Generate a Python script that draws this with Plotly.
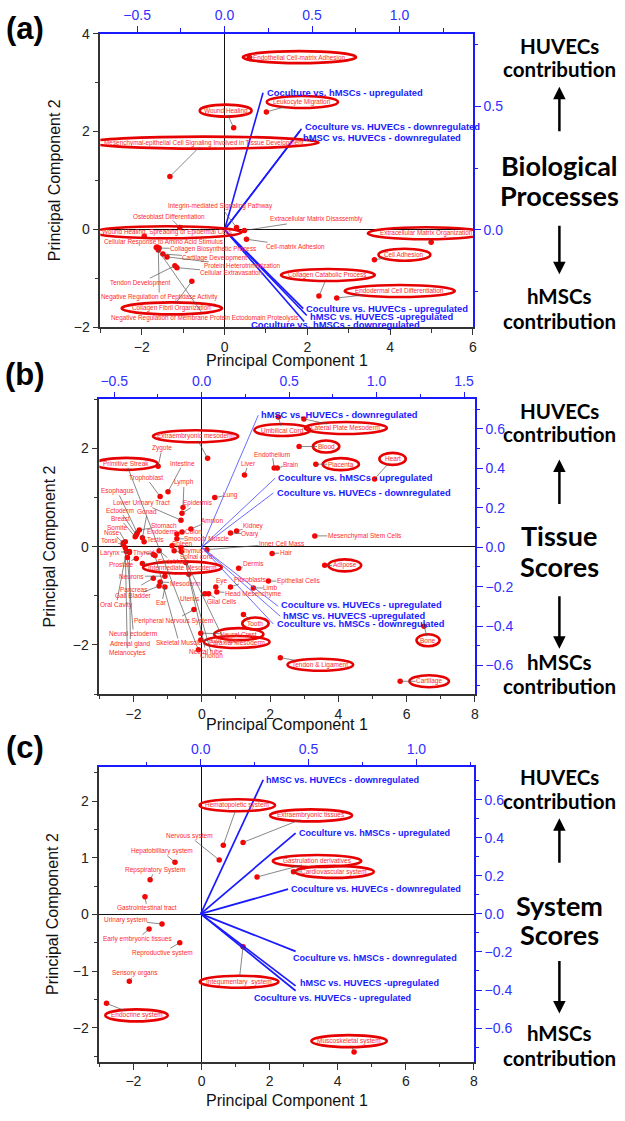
import plotly.graph_objects as go

W, H = 625, 1121

# ======================= DATA =======================
# ---- (a) Biological Processes ----
a_names = ["Endothelial Cell-matrix Adhesion", "Leukocyte Migration", "Wound Healing",
           "Mesenchymal-epithelial Cell Signaling Involved in Tissue Development",
           "Integrin-mediated Signaling Pathway", "Osteoblast Differentiation",
           "Extracellular Matrix Disassembly", "Cell-matrix Adhesion",
           "Wound Healing, Spreading of Epidermal Cells", "Cellular Response to Amino Acid Stimulus",
           "Collagen Biosynthetic Process", "Cartilage Development", "Protein Heterotrimerization",
           "Cellular Extravasation", "Tendon Development", "Negative Regulation of Peptidase Activity",
           "Collagen Fibril Organization",
           "Negative Regulation of Membrane Protein Ectodomain Proteolysis",
           "Extracellular Matrix Organization", "Cell Adhesion", "Collagen Catabolic Process",
           "Endodermal Cell Differentiation"]
a_pc1 = [0.6, 1.01, 0.22, -1.32, 0.29, -1.08, 0.48, 0.53, -1.94, -1.63, -1.58, -1.49, -1.39,
         -1.15, -1.2, -1.6, -0.79, -1.65, 4.99, 3.62, 2.28, 2.71]
a_pc2 = [3.52, 2.4, 2.08, 1.08, 0.04, 0.04, -0.02, -0.2, -0.14, -0.36, -0.38, -0.5, -0.56,
         -0.78, -0.74, -0.42, -1.06, -0.37, -0.26, -0.62, -1.36, -1.4]
a_circled = ["Endothelial Cell-matrix Adhesion", "Leukocyte Migration", "Wound Healing",
             "Mesenchymal-epithelial Cell Signaling Involved in Tissue Development",
             "Wound Healing, Spreading of Epidermal Cells", "Collagen Fibril Organization",
             "Extracellular Matrix Organization", "Cell Adhesion", "Collagen Catabolic Process",
             "Endodermal Cell Differentiation"]
a_load_names = ["Coculture vs. hMSCs - upregulated", "Coculture vs. HUVECs - downregulated",
                "hMSC vs. HUVECs - downregulated", "Coculture vs. HUVECs - upregulated",
                "hMSC vs. HUVECS -upregulated", "Coculture vs. hMSCs - downregulated"]
a_load_pc1 = [0.22, 0.44, 0.43, 0.45, 0.47, 0.455]
a_load_pc2 = [0.556, 0.41, 0.40, -0.32, -0.348, -0.372]

# ---- (b) Tissue Scores ----
b_names = ["Extraembryonic mesoderm", "Zygote", "Primitive Streak", "Intestine", "Trophoblast",
           "Lymph", "Esophagus", "Lung", "Lower Urinary Tract", "Epidermis", "Ectoderm", "Gonad",
           "Amnion", "Breast", "Stomach", "Somite", "Endoderm", "Colon", "Nose", "Testis",
           "Smooth Muscle", "Tonsil", "Spleen", "Thymus", "Spinal cord", "Larynx", "Thyroid",
           "Endoblast", "Prostate", "Intermediate Mesoderm", "Dermis", "Neurons", "Mesoderm",
           "Pancreas", "Gall Bladder", "Oral Cavity", "Ear", "Uterus", "Glial Cells", "Eye",
           "Head Mesenchyme", "Fibroblasts", "Limb", "Epithelial Cells", "Hair", "Adipose",
           "Mesenchymal Stem Cells", "Inner Cell Mass", "Kidney", "Ovary", "Liver", "Endothelium",
           "Brain", "Placenta", "Blood", "Heart", "Umbilical Cord", "Lateral Plate Mesoderm",
           "Peripheral Nervous System", "Tooth", "Neural Crest", "Paraxial Mesoderm",
           "Tendon & Ligament", "Cartilage", "Bone", "Neural ectoderm", "Adrenal gland",
           "Melanocytes", "Skeletal Muscle", "Neural tube", "Chorion", "Gut Tube"]
b_pc1 = [0.17, -1.28, -0.1, -0.99, -1.22, -0.55, -1.89, 0.38, -0.61, -0.58, -1.92, -1.74,
         -0.32, -1.95, -1.83, -2.24, -0.73, -0.58, -2.3, -1.69, -0.73, -2.3, -0.87, -0.61,
         -0.81, -2.12, -1.42, -1.25, -1.92, -1.74, 1.08, -1.08, -1.22, -1.42, -1.25, -2.21,
         -1.08, 0.09, 0.2, 0.41, 0.44, 0.84, 1.51, 1.95, 2.06, 3.6, 3.31, 0.15, 1.02, 0.84,
         1.25, 2.12, 2.21, 3.34, 2.85, 5.06, 2.24, 2.99, -0.23, 1.22, -0.03, -0.03, 2.3, 5.81,
         6.51, -2.18, -2.12, -2.24, -1.37, -0.47, -0.38, -0.6]
b_pc2 = [1.8, 1.64, -2.1, 1.12, 1.02, 0.8, 0.28, 1.0, 0.54, 0.68, 0.24, 0.18, 0.36, 0.2, 0.34,
         0.1, 0.26, 0.3, 0.08, 0.1, 0.16, 0.04, 0.02, -0.02, -0.08, -0.1, -0.16, -0.08, -0.24,
         -0.34, -0.44, -0.6, -0.72, -0.64, -0.8, -0.1, -0.82, -0.96, -0.96, -0.82, -0.92, -0.82,
         -0.84, -0.7, -0.14, -0.38, 0.22, -0.06, 0.32, 0.28, 1.46, 1.6, 1.6, 1.68, 2.04, 1.38,
         2.64, 2.6, -1.28, -1.38, -1.76, -1.9, -2.26, -2.74, -1.62, -0.22, -0.12, -0.02, -0.18,
         -0.32, -0.56, -0.1]
b_circled = ["Extraembryonic mesoderm", "Primitive Streak", "Intermediate Mesoderm", "Adipose",
             "Placenta", "Blood", "Heart", "Umbilical Cord", "Lateral Plate Mesoderm", "Tooth",
             "Neural Crest", "Paraxial Mesoderm", "Tendon & Ligament", "Cartilage", "Bone"]
b_load_names = ["hMSC vs. HUVECs - downregulated", "Coculture vs. hMSCs - upregulated",
                "Coculture vs. HUVECs - downregulated", "Coculture vs. HUVECs - upregulated",
                "hMSC vs. HUVECS -upregulated", "Coculture vs. hMSCs - downregulated"]
b_load_pc1 = [0.324, 0.42, 0.41, 0.4375, 0.449, 0.41]
b_load_pc2 = [0.67, 0.35, 0.275, -0.30, -0.35, -0.39]

# ---- (c) System Scores ----
c_names = ["Hematopoietic system", "Nervous system", "Extraembryonic tissues",
           "Gastrulation derivatives", "Cardiovascular system", "Hepatobilliary system",
           "Repspiratory System", "Gastrointestinal tract", "Urinary system",
           "Early embryonic tissues", "Reproductive system", "Sensory organs", "Endocrine system",
           "Integumentary  system", "Muscoskeletal system"]
c_pc1 = [0.64, 0.52, 1.22, 1.63, 2.7, -0.78, -1.51, -1.66, -1.16, -1.54, -0.64, -2.12, -2.79,
         1.22, 4.48]
c_pc2 = [1.22, 0.96, 1.27, 0.66, 0.75, 0.92, 0.61, 0.31, -0.17, -0.26, -0.5, -1.18, -1.57,
         -0.57, -2.43]
c_circled = ["Hematopoietic system", "Extraembryonic tissues", "Gastrulation derivatives",
             "Cardiovascular system", "Endocrine system", "Integumentary  system",
             "Muscoskeletal system"]
c_load_names = ["hMSC vs. HUVECs - downregulated", "Coculture vs. hMSCs - upregulated",
                "Coculture vs. HUVECs - downregulated", "Coculture vs. hMSCs - downregulated",
                "hMSC vs. HUVECS -upregulated", "Coculture vs. HUVECs - upregulated"]
c_load_pc1 = [0.29, 0.44, 0.405, 0.44, 0.44, 0.44]
c_load_pc2 = [0.705, 0.425, 0.13, -0.197, -0.378, -0.404]

# ======================= LABEL PLACEMENT (pixel offsets from point) =======================
a_label_off = [(50, 0), (36, -10), (-8, -17), (34, -34), (-16, -21), (-11, -11), (72, -11),
               (49, 7), (23, -4), (6, -5), (54, 1), (52, 4), (75, 9), (55, 5), (-34, 17),
               (1, 47), (-20, 27), (49, 70), (-5, -9), (30, -5), (9, -21), (63, -7)]
a_load_off = [(2, 0), (1, -2), (1, 6), (1, 0), (1, 1), (-55, 3)]

b_label_off = [(-12, -22), (4, -18), (-72, -186), (15, -28), (-14, -19), (1, -25), (-20, -42),
               (16, -3), (-39, -17), (16, -10), (-16, -24), (5, -26), (21, -9), (-15, -18),
               (25, -4), (-8, -14), (-15, -2), (12, 0), (-11, -10), (11, -2), (30, 0), (-14, -4),
               (10, -2), (11, 3), (22, 6), (-19, 1), (-9, -2), (13, 11), (-15, 6), (40, 4),
               (15, -5), (-33, 0), (25, 1), (-19, 11), (-26, 10), (-10, 53), (-3, 16), (-15, 5),
               (13, 8), (6, -6), (36, 2), (20, -7), (17, 0), (30, 0), (14, -1), (20, 0), (50, 0),
               (75, -6), (17, -5), (20, 1), (4, -11), (-2, -14), (14, -4), (25, 0), (27, 0),
               (18, -20), (4, 13), (42, 9), (-20, 11), (12, 9), (38, 1), (36, 2), (40, 7),
               (29, 0), (4, 14), (6, 76), (1, 91), (2, 105), (24, 87), (20, 89), (23, 81),
               (43, 89)]
b_load_off = [(1, 0), (1, 0), (2, 0), (1, -1), (1, 0), (2, 0)]

c_label_off = [(14, -40), (-30, -24), (68, -27), (60, -16), (41, 0), (-13, -11), (5, -10),
               (2, 11), (-37, -4), (-12, 10), (-17, 10), (6, -8), (30, 12), (-4, 35), (-5, -11)]
c_load_off = [(1, 0), (1, 0), (1, 0), (-5, 7), (2, -3), (-44, 7)]

# ======================= STYLE / GEOMETRY =======================
PANELS = [
    dict(names=a_names, pc1=a_pc1, pc2=a_pc2, circ=a_circled, off=a_label_off,
         ln=a_load_names, lx=a_load_pc1, ly=a_load_pc2, loff=a_load_off,
         px=(101, 476), py=(26, 324), xr=(-3, 6), yr=(-2, 4), x2r=(-0.710, 1.420),
         y2r=(-0.396, 0.796), xd=2, xm=1, yd=2, ym=1, x2d=0.5, x2m=0.25, y2d=0.5, y2m=0.25,
         fs=6.4, lfs=9.4, lw=1.6, lcol="#1a1aff", title_y=358, ytitle_x=55),
    dict(names=b_names, pc1=b_pc1, pc2=b_pc2, circ=b_circled, off=b_label_off,
         ln=b_load_names, lx=b_load_pc1, ly=b_load_pc2, loff=b_load_off,
         px=(100, 478), py=(397, 696), xr=(-3, 8), yr=(-3, 3), x2r=(-0.585, 1.5625),
         y2r=(-0.745, 0.75), xd=2, xm=1, yd=2, ym=1, x2d=0.5, x2m=0.25, y2d=0.2, y2m=0.1,
         fs=6.5, lfs=9.3, lw=0.9, lcol="#5a5aff", title_y=727, ytitle_x=50),
    dict(names=c_names, pc1=c_pc1, pc2=c_pc2, circ=c_circled, off=c_label_off,
         ln=c_load_names, lx=c_load_pc1, ly=c_load_pc2, loff=c_load_off,
         px=(100, 477), py=(770, 1069), xr=(-3, 8), yr=(-2.6, 2.6), x2r=(-0.470, 1.267),
         y2r=(-0.777, 0.772), xd=2, xm=1, yd=1, ym=0.5, x2d=0.5, x2m=0.25, y2d=0.2, y2m=0.1,
         fs=6.5, lfs=9.1, lw=1.7, lcol="#1a1aff", title_y=1108, ytitle_x=53),
]

RED_TXT = "#ff2a2a"
RED_DOT = "#ff0000"
BLUE = "#1a1aff"
BLUE_TICK = "#2f2fff"
FONT = "Liberation Sans"

fig = go.Figure()
annotations = []
shapes = []
layout = {}


def axname(n, kind):
    return kind if n == 1 else f"{kind}{n}"


for i, P in enumerate(PANELS):
    n1, n2 = 2 * i + 1, 2 * i + 2
    xa, x2a = axname(n1, "x"), axname(n2, "x")
    ya, y2a = axname(n1, "y"), axname(n2, "y")
    xdom = [P["px"][0] / W, P["px"][1] / W]
    ydom = [1 - P["py"][1] / H, 1 - P["py"][0] / H]
    tickfont = dict(family=FONT, size=14, color="#222")
    btickfont = dict(family=FONT, size=14, color=BLUE_TICK)
    layout[f"xaxis{'' if n1 == 1 else n1}"] = dict(
        domain=xdom, range=list(P["xr"]), anchor=ya, side="bottom", showgrid=False,
        zeroline=True, zerolinecolor="#111", zerolinewidth=1.3, showline=True,
        linecolor="#333", linewidth=1.6, ticks="outside", ticklen=6, tickwidth=1.4,
        tickcolor="#333", dtick=P["xd"], tick0=0, tickfont=tickfont,
        minor=dict(dtick=P["xm"], ticklen=3.5, tickwidth=1.2, tickcolor="#333", ticks="outside"),
        fixedrange=True)
    layout[f"yaxis{'' if n1 == 1 else n1}"] = dict(
        domain=ydom, range=list(P["yr"]), anchor=xa, side="left", showgrid=False,
        zeroline=True, zerolinecolor="#111", zerolinewidth=1.3, showline=True,
        linecolor="#333", linewidth=1.6, ticks="outside", ticklen=6, tickwidth=1.4,
        tickcolor="#333", dtick=P["yd"], tick0=0, tickfont=tickfont,
        minor=dict(dtick=P["ym"], ticklen=3.5, tickwidth=1.2, tickcolor="#333", ticks="outside"),
        fixedrange=True)
    layout[f"xaxis{n2}"] = dict(
        domain=xdom, range=list(P["x2r"]), overlaying=xa, anchor=y2a, side="top",
        showgrid=False, zeroline=False, showline=True, linecolor=BLUE, linewidth=1.6,
        ticks="outside", ticklen=6, tickwidth=1.4, tickcolor=BLUE, dtick=P["x2d"], tick0=0,
        tickformat=".1f", tickfont=btickfont,
        minor=dict(dtick=P["x2m"], ticklen=3.5, tickwidth=1.2, tickcolor=BLUE, ticks="outside"),
        fixedrange=True)
    layout[f"yaxis{n2}"] = dict(
        domain=ydom, range=list(P["y2r"]), overlaying=ya, anchor=x2a, side="right",
        showgrid=False, zeroline=False, showline=True, linecolor=BLUE, linewidth=1.6,
        ticks="outside", ticklen=6, tickwidth=1.4, tickcolor=BLUE, dtick=P["y2d"], tick0=0,
        tickformat=".1f", tickfont=btickfont,
        minor=dict(dtick=P["y2m"], ticklen=3.5, tickwidth=1.2, tickcolor=BLUE, ticks="outside"),
        fixedrange=True)

    # loading vectors (top/right axes)
    lxs, lys = [], []
    for x, y in zip(P["lx"], P["ly"]):
        lxs += [0, x, None]
        lys += [0, y, None]
    fig.add_trace(go.Scatter(x=lxs, y=lys, mode="lines", xaxis=x2a, yaxis=y2a,
                             line=dict(color=P["lcol"], width=P["lw"]), hoverinfo="skip",
                             showlegend=False))
    for name, x, y, (dx, dy) in zip(P["ln"], P["lx"], P["ly"], P["loff"]):
        annotations.append(dict(x=x, y=y, xref=x2a, yref=y2a, text=f"<b>{name}</b>",
                                showarrow=False, xanchor="left", yanchor="middle",
                                xshift=dx, yshift=-dy,
                                font=dict(family=FONT, size=P["lfs"], color=BLUE)))

    # score points
    fig.add_trace(go.Scatter(x=P["pc1"], y=P["pc2"], mode="markers", xaxis=xa, yaxis=ya,
                             marker=dict(color=RED_DOT, size=5.5), hoverinfo="text",
                             text=P["names"], showlegend=False))
    for name, x, y, (dx, dy) in zip(P["names"], P["pc1"], P["pc2"], P["off"]):
        annotations.append(dict(x=x, y=y, xref=xa, yref=ya, text=name, showarrow=True,
                                arrowhead=0, arrowwidth=0.7, arrowcolor="#555", ax=dx, ay=dy,
                                standoff=0, borderpad=0, xanchor="center", yanchor="middle",
                                font=dict(family=FONT, size=P["fs"], color=RED_TXT)))
        if name in P["circ"]:
            hw = len(name) * P["fs"] * 0.24
            rx = hw * 1.05 + 5
            ry = 6
            shapes.append(dict(type="circle", xref=xa, yref=ya, xsizemode="pixel",
                               ysizemode="pixel", xanchor=x, yanchor=y,
                               x0=dx - rx, x1=dx + rx, y0=-dy - ry, y1=-dy + ry,
                               line=dict(color="#e60000", width=2.6)))

    # axis titles
    annotations.append(dict(x=(P["px"][0] + P["px"][1]) / 2 / W, y=1 - P["title_y"] / H,
                            xref="paper", yref="paper", text="Principal Component 1",
                            showarrow=False, xanchor="center", yanchor="middle",
                            font=dict(family=FONT, size=16, color="#111")))
    annotations.append(dict(x=P["ytitle_x"] / W, y=1 - (P["py"][0] + P["py"][1]) / 2 / H,
                            xref="paper", yref="paper", text="Principal Component 2",
                            textangle=-90, showarrow=False, xanchor="center", yanchor="middle",
                            font=dict(family=FONT, size=16, color="#111")))

# ---- panel letters ----
for letter, yy in [("(a)", 21), ("(b)", 372), ("(c)", 750)]:
    annotations.append(dict(x=25 / W, y=1 - yy / H, xref="paper", yref="paper",
                            text=f"<b>{letter}</b>", showarrow=False, xanchor="center",
                            yanchor="middle", font=dict(family=FONT, size=31, color="#000")))

# ---- right side explanatory text ----
SIDE_X = 563
side_blocks = [
    (["HUVECs", "contribution"], [39, 62], ["Biological", "Processes"], [160, 190],
     ["hMSCs", "contribution"], [292, 318], (80, 126), (220, 270)),
    (["HUVECs", "contribution"], [409, 432], ["Tissue", "Scores"], [535, 567],
     ["hMSCs", "contribution"], [663, 688], (458, 504), (596, 650)),
    (["HUVECs", "contribution"], [780, 804], ["System", "Scores"], [910, 940],
     ["hMSCs", "contribution"], [1040, 1065], (822, 868), (966, 1020)),
]
SIDE_FONT = "Lato"
for top, topy, mid, midy, bot, boty, up, down in side_blocks:
    for t, yy in zip(top + bot, topy + boty):
        annotations.append(dict(x=SIDE_X / W, y=1 - yy / H, xref="paper", yref="paper",
                                text=f"<b>{t}</b>", showarrow=False, xanchor="center",
                                yanchor="middle",
                                font=dict(family=SIDE_FONT, size=20.5, color="#000")))
    for t, yy in zip(mid, midy):
        annotations.append(dict(x=SIDE_X / W, y=1 - yy / H, xref="paper", yref="paper",
                                text=f"<b>{t}</b>", showarrow=False, xanchor="center",
                                yanchor="middle",
                                font=dict(family=SIDE_FONT, size=27, color="#000")))
    # up arrow (head at top)
    annotations.append(dict(x=SIDE_X / W, y=1 - up[0] / H, xref="paper", yref="paper",
                            text="", showarrow=True, arrowhead=2, arrowsize=1,
                            arrowwidth=2.5, arrowcolor="#000", ax=0, ay=up[1] - up[0]))
    # down arrow (head at bottom)
    annotations.append(dict(x=SIDE_X / W, y=1 - down[1] / H, xref="paper", yref="paper",
                            text="", showarrow=True, arrowhead=2, arrowsize=1,
                            arrowwidth=2.5, arrowcolor="#000", ax=0, ay=down[0] - down[1]))

fig.update_layout(**layout)
fig.update_layout(width=W, height=H, autosize=False,
                  margin=dict(l=0, r=0, t=0, b=0, pad=0),
                  paper_bgcolor="white", plot_bgcolor="white",
                  annotations=annotations, shapes=shapes, showlegend=False)

fig.write_html("out.html", include_plotlyjs=True, config={"displayModeBar": False},
               post_script="document.body.style.margin='0';document.body.style.overflow='hidden';")
